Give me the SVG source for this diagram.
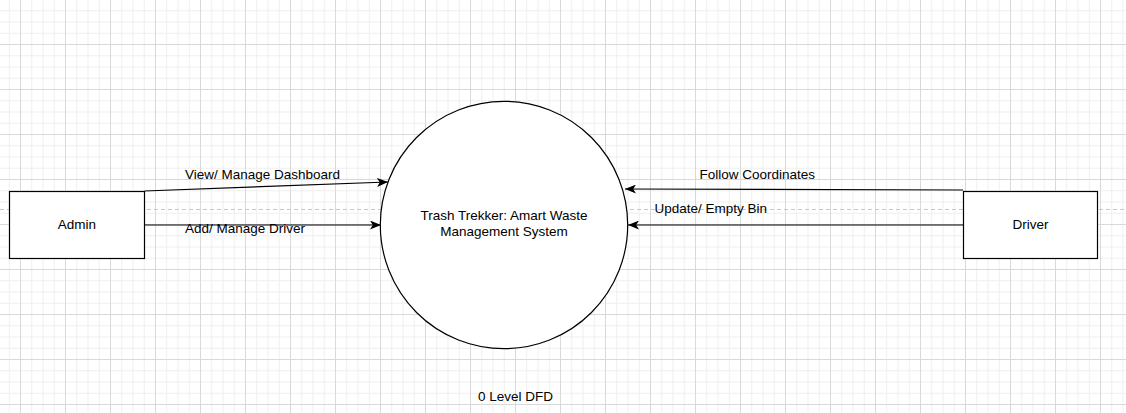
<svg xmlns="http://www.w3.org/2000/svg" width="1126" height="413" viewBox="0 0 1126 413">
<style>
text{font-family:"Liberation Sans",Arial,Helvetica,sans-serif;font-size:13.5px;fill:#000}
.node{fill:#fff;stroke:#000;stroke-width:1.2}
.edge{fill:none;stroke:#000;stroke-width:1.2}
</style>
<defs>
<pattern id="grid" patternUnits="userSpaceOnUse" x="20" y="44" width="45" height="45">
<rect x="0" y="0" width="45" height="45" fill="#fff"/>
<g fill="#f0f0f0">
<rect x="11.25" y="0" width="1" height="45"/>
<rect x="22.5" y="0" width="1" height="45"/>
<rect x="33.75" y="0" width="1" height="45"/>
<rect x="0" y="11.25" width="45" height="1"/>
<rect x="0" y="22.5" width="45" height="1"/>
<rect x="0" y="33.75" width="45" height="1"/>
</g>
<g fill="#d9d9d9">
<rect x="0" y="0" width="1" height="45"/>
<rect x="0" y="0" width="45" height="1"/>
</g>
</pattern>
<marker id="arr" markerUnits="userSpaceOnUse" viewBox="0 0 11 9" refX="11" refY="4.5" markerWidth="11" markerHeight="9" orient="auto">
<path d="M0,0 L11,4.5 L0,9 L2.8,4.5 Z" fill="#000"/>
</marker>
</defs>
<rect width="1126" height="413" fill="url(#grid)"/>
<line x1="0" y1="209.5" x2="1126" y2="209.5" stroke="#c8c8c8" stroke-width="1" stroke-dasharray="4 3"/>
<g id="connectors">
<line class="edge" x1="144.5" y1="191" x2="388" y2="182" marker-end="url(#arr)"/>
<line class="edge" x1="144.5" y1="225" x2="381" y2="225" marker-end="url(#arr)"/>
<line class="edge" x1="963" y1="190" x2="625" y2="189" marker-end="url(#arr)"/>
<line class="edge" x1="963" y1="225" x2="628" y2="225" marker-end="url(#arr)"/>
<text x="185" y="179">View/ Manage Dashboard</text>
<text x="185" y="233">Add/ Manage Driver</text>
<text x="699.5" y="179">Follow Coordinates</text>
<text x="654.5" y="213">Update/ Empty Bin</text>
</g>
<g id="admin">
<rect class="node" x="9.5" y="191.5" width="135" height="67"/>
<text x="77" y="229" text-anchor="middle">Admin</text>
</g>
<g id="driver">
<rect class="node" x="963.5" y="191.5" width="134" height="67"/>
<text x="1030.5" y="229" text-anchor="middle">Driver</text>
</g>
<g id="system">
<circle class="node" cx="504" cy="225" r="123.7"/>
<text x="504" y="220" text-anchor="middle">Trash Trekker: Amart Waste</text>
<text x="504" y="236" text-anchor="middle">Management System</text>
</g>
<g id="caption">
<text x="515.5" y="401" text-anchor="middle">0 Level DFD</text>
</g>
</svg>
